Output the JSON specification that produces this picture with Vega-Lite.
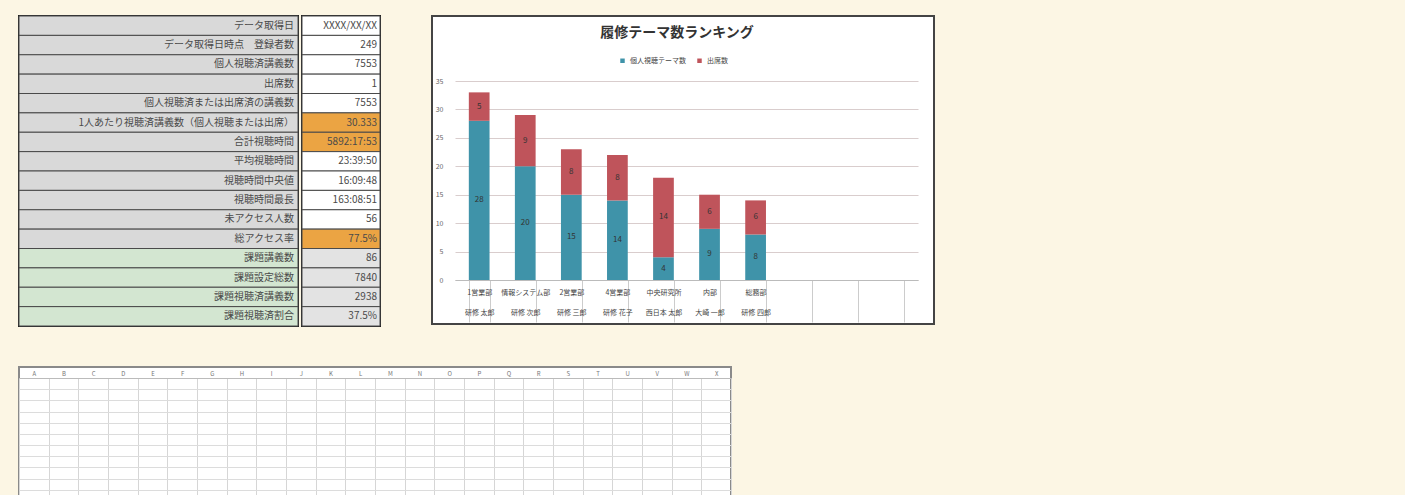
{
  "$schema": "https://vega.github.io/schema/vega-lite/v6.json",
  "background": "#fcf6e4",
  "padding": {"left": 17, "top": 14, "right": 475, "bottom": 0},
  "config": {
    "font": "Noto Sans CJK JP",
    "view": {"stroke": null}
  },
  "datasets": {
    "stats": [
      {"item": "データ取得日", "value": "XXXX/XX/XX", "group": "視聴", "highlight": false},
      {"item": "データ取得日時点　登録者数", "value": "249", "group": "視聴", "highlight": false},
      {"item": "個人視聴済講義数", "value": "7553", "group": "視聴", "highlight": false},
      {"item": "出席数", "value": "1", "group": "視聴", "highlight": false},
      {"item": "個人視聴済または出席済の講義数", "value": "7553", "group": "視聴", "highlight": false},
      {"item": "1人あたり視聴済講義数（個人視聴または出席）", "value": "30.333", "group": "視聴", "highlight": true},
      {"item": "合計視聴時間", "value": "5892:17:53", "group": "視聴", "highlight": true},
      {"item": "平均視聴時間", "value": "23:39:50", "group": "視聴", "highlight": false},
      {"item": "視聴時間中央値", "value": "16:09:48", "group": "視聴", "highlight": false},
      {"item": "視聴時間最長", "value": "163:08:51", "group": "視聴", "highlight": false},
      {"item": "未アクセス人数", "value": "56", "group": "視聴", "highlight": false},
      {"item": "総アクセス率", "value": "77.5%", "group": "視聴", "highlight": true},
      {"item": "課題講義数", "value": "86", "group": "課題", "highlight": false},
      {"item": "課題設定総数", "value": "7840", "group": "課題", "highlight": false},
      {"item": "課題視聴済講義数", "value": "2938", "group": "課題", "highlight": false},
      {"item": "課題視聴済割合", "value": "37.5%", "group": "課題", "highlight": false}
    ],
    "ranking": [
      {"member": "1営業部|研修 太郎", "type": "個人視聴テーマ数", "count": 28},
      {"member": "1営業部|研修 太郎", "type": "出席数", "count": 5},
      {"member": "情報システム部|研修 次郎", "type": "個人視聴テーマ数", "count": 20},
      {"member": "情報システム部|研修 次郎", "type": "出席数", "count": 9},
      {"member": "2営業部|研修 三郎", "type": "個人視聴テーマ数", "count": 15},
      {"member": "2営業部|研修 三郎", "type": "出席数", "count": 8},
      {"member": "4営業部|研修 花子", "type": "個人視聴テーマ数", "count": 14},
      {"member": "4営業部|研修 花子", "type": "出席数", "count": 8},
      {"member": "中央研究所|西日本 太郎", "type": "個人視聴テーマ数", "count": 4},
      {"member": "中央研究所|西日本 太郎", "type": "出席数", "count": 14},
      {"member": "内部|大崎 一郎", "type": "個人視聴テーマ数", "count": 9},
      {"member": "内部|大崎 一郎", "type": "出席数", "count": 6},
      {"member": "総務部|研修 四郎", "type": "個人視聴テーマ数", "count": 8},
      {"member": "総務部|研修 四郎", "type": "出席数", "count": 6}
    ]
  },
  "vconcat": [
    {
      "spacing": 49,
      "hconcat": [
        {
          "spacing": 0,
          "hconcat": [
            {
              "width": 279,
              "height": 310,
              "data": {"name": "stats"},
              "view": {"stroke": "#222", "strokeWidth": 2},
              "encoding": {
                "y": {"field": "item", "type": "nominal", "sort": null, "axis": null, "scale": {"paddingInner": 0, "paddingOuter": 0}}
              },
              "layer": [
                {
                  "mark": {"type": "rect", "stroke": "#4a4a4a", "strokeWidth": 1},
                  "encoding": {
                    "x": {"value": 0},
                    "x2": {"value": "width"},
                    "fill": {"condition": {"test": "datum.group === '課題'", "value": "#d3e6d1"}, "value": "#d9d9d9"}
                  }
                },
                {
                  "mark": {"type": "text", "align": "right", "dx": -4, "fontSize": 10, "color": "#4a4a4a"},
                  "encoding": {"x": {"value": "width"}, "text": {"field": "item"}}
                }
              ]
            },
            {
              "width": 78,
              "height": 310,
              "data": {"name": "stats"},
              "view": {"stroke": "#222", "strokeWidth": 2},
              "encoding": {
                "y": {"field": "item", "type": "nominal", "sort": null, "axis": null, "scale": {"paddingInner": 0, "paddingOuter": 0}}
              },
              "layer": [
                {
                  "mark": {"type": "rect", "stroke": "#4a4a4a", "strokeWidth": 1},
                  "encoding": {
                    "x": {"value": 0},
                    "x2": {"value": "width"},
                    "fill": {
                      "condition": [
                        {"test": "datum.highlight", "value": "#eba443"},
                        {"test": "datum.group === '課題'", "value": "#e3e3e3"}
                      ],
                      "value": "#ffffff"
                    }
                  }
                },
                {
                  "mark": {"type": "text", "align": "right", "dx": -3, "fontSize": 10, "color": "#4a4a4a"},
                  "encoding": {"x": {"value": "width"}, "text": {"field": "value"}}
                }
              ]
            }
          ]
        },
        {
          "width": 502,
          "height": 308,
          "data": {"name": "ranking"},
          "view": {"fill": "#ffffff", "stroke": "#444444", "strokeWidth": 2},
          "title": {
            "text": "履修テーマ数ランキング",
            "offset": -24,
            "dx": -6,
            "fontSize": 14,
            "fontWeight": "bold",
            "color": "#333333",
            "anchor": "middle"
          },
          "encoding": {
            "x": {
              "field": "member",
              "type": "nominal",
              "sort": null,
              "scale": {
                "domain": ["1営業部|研修 太郎", "情報システム部|研修 次郎", "2営業部|研修 三郎", "4営業部|研修 花子", "中央研究所|西日本 太郎", "内部|大崎 一郎", "総務部|研修 四郎", "_8", "_9", "_10"],
                "range": [23, 486],
                "paddingInner": 0.55,
                "paddingOuter": 0.3,
                "align": 0.5
              },
              "axis": {
                "title": null,
                "orient": "bottom",
                "offset": -44,
                "labelAngle": 0,
                "labelExpr": "indexof(datum.value + '', '|') >= 0 ? split(datum.value, '|') : ''",
                "labelFontSize": 7,
                "labelColor": "#444444",
                "labelLineHeight": 20,
                "labelPadding": -34,
                "labelBaseline": "top",
                "tickBand": "extent",
                "tickSize": 42,
                "tickColor": "#cccccc",
                "domainColor": "#bbbbbb",
                "grid": false
              }
            },
            "y": {
              "field": "count",
              "type": "quantitative",
              "stack": "zero",
              "scale": {"domain": [0, 35], "range": [264, 65], "nice": false, "zero": true},
              "axis": {
                "title": null,
                "offset": -23,
                "values": [0, 5, 10, 15, 20, 25, 30, 35],
                "domain": false,
                "ticks": false,
                "labelFontSize": 7,
                "labelColor": "#666666",
                "labelPadding": 12,
                "gridColor": "#d9cdcd",
                "gridWidth": 1.2
              }
            },
            "order": {"field": "type", "type": "nominal", "sort": "ascending"}
          },
          "layer": [
            {
              "mark": {"type": "bar"},
              "encoding": {
                "color": {
                  "field": "type",
                  "type": "nominal",
                  "scale": {"domain": ["個人視聴テーマ数", "出席数"], "range": ["#3f93a9", "#bf545b"]},
                  "legend": {
                    "title": null,
                    "orient": "none",
                    "direction": "horizontal",
                    "legendX": 600,
                    "legendY": 41,
                    "symbolType": "square",
                    "symbolSize": 20,
                    "labelFontSize": 7,
                    "labelColor": "#444444",
                    "columnPadding": 10
                  }
                }
              }
            },
            {
              "mark": {"type": "text", "fontSize": 8, "color": "#333333"},
              "encoding": {
                "y": {"field": "count", "type": "quantitative", "stack": "zero", "bandPosition": 0.5},
                "detail": {"field": "type", "type": "nominal"},
                "text": {"field": "count", "type": "quantitative"}
              }
            }
          ]
        }
      ]
    },
    {
      "width": 712,
      "height": 134,
      "data": {"values": [{}]},
      "view": {"fill": "#ffffff", "stroke": "#8a8a8a", "strokeWidth": 2},
      "mark": {"type": "point", "opacity": 0},
      "encoding": {
        "x": {
          "datum": "A",
          "type": "nominal",
          "scale": {"domain": ["A", "B", "C", "D", "E", "F", "G", "H", "I", "J", "K", "L", "M", "N", "O", "P", "Q", "R", "S", "T", "U", "V", "W", "X"], "paddingInner": 0, "paddingOuter": 0},
          "axis": {
            "title": null,
            "orient": "top",
            "offset": -11,
            "labelAngle": 0,
            "labelFontSize": 6,
            "labelColor": "#777777",
            "labelPadding": 2,
            "ticks": false,
            "domainColor": "#bbbbbb",
            "grid": true,
            "tickBand": "extent",
            "gridColor": "#d6d6d6"
          }
        },
        "y": {
          "datum": 1,
          "type": "ordinal",
          "scale": {"domain": [1, 2, 3, 4, 5, 6, 7, 8, 9, 10, 11], "range": [11, 134], "paddingInner": 0, "paddingOuter": 0},
          "axis": {
            "title": null,
            "labels": false,
            "ticks": false,
            "domain": false,
            "grid": true,
            "tickBand": "extent",
            "gridColor": "#dcdcdc"
          }
        }
      }
    }
  ],
  "spacing": 38
}
